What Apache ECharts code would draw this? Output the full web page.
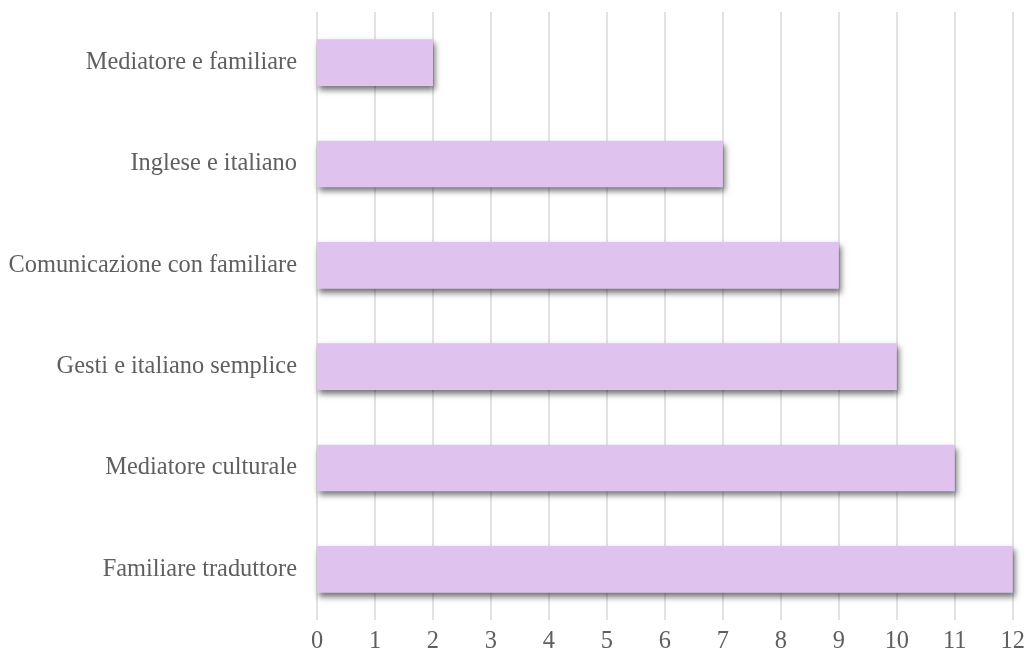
<!DOCTYPE html>
<html>
<head>
<meta charset="utf-8">
<script src="https://cdn.jsdelivr.net/npm/echarts@6/dist/echarts.min.js"></script>
<style>
  html, body { margin: 0; padding: 0; background: #fff; }
  #chart { width: 1028px; height: 656px; }
</style>
</head>
<body>
<div id="chart"></div>
<script>
// Categories listed top to bottom
const categories = [
  'Mediatore e familiare',
  'Inglese e italiano',
  'Comunicazione con familiare',
  'Gesti e italiano semplice',
  'Mediatore culturale',
  'Familiare traduttore'
];
const values = [2, 7, 9, 10, 11, 12];
const xTicks = { min: 0, max: 12, interval: 1 };

const chart = echarts.init(document.getElementById('chart'));
const textStyle = { fontFamily: '"Liberation Serif", "Times New Roman", serif', fontSize: 24.4, color: '#5f5f5f' };

chart.setOption({
  animation: false,
  grid: { left: 317, right: 14, top: 12, bottom: 36, containLabel: false },
  xAxis: {
    type: 'value',
    min: xTicks.min, max: xTicks.max, interval: xTicks.interval,
    axisLine: { show: false },
    axisTick: { show: false },
    splitLine: { show: true, lineStyle: { color: '#d9d9d9', width: 1.5 } },
    axisLabel: Object.assign({ margin: 10 }, textStyle)
  },
  yAxis: {
    type: 'category',
    data: categories,
    inverse: true,
    axisLine: { show: false },
    axisTick: { show: false },
    axisLabel: Object.assign({ margin: 20 }, textStyle)
  },
  series: [{
    type: 'bar',
    data: values,
    barWidth: '46%',
    itemStyle: {
      color: '#dfc3ee',
      shadowColor: 'rgba(0,0,0,0.55)',
      shadowBlur: 6,
      shadowOffsetX: 2,
      shadowOffsetY: 4
    }
  }]
});
</script>
</body>
</html>
